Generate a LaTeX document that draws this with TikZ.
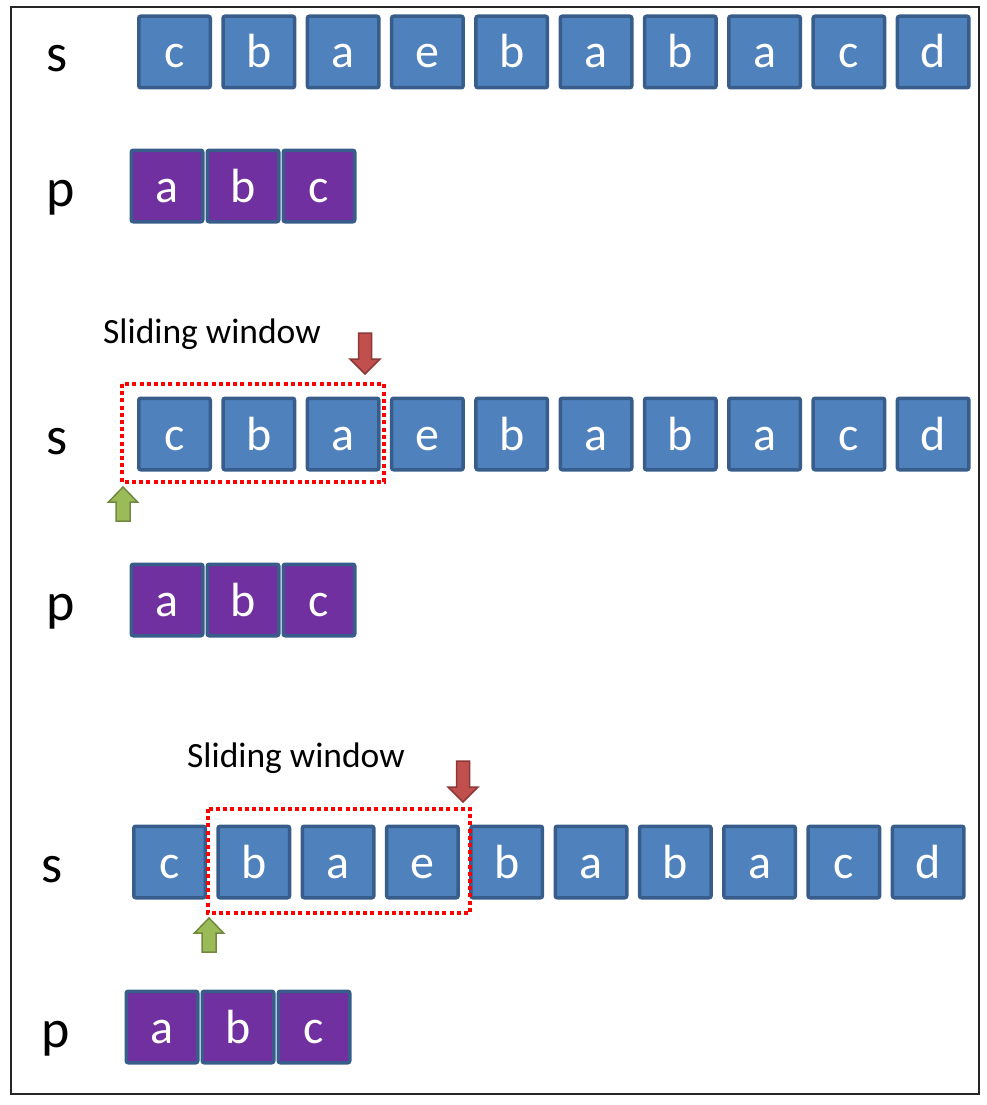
\documentclass[tikz,border=0pt]{standalone}
\usepackage{fontspec}
\setmainfont{Carlito}
\usetikzlibrary{positioning}
\definecolor{cellblue}{HTML}{4F81BD}
\definecolor{cellpurple}{HTML}{7030A0}
\definecolor{cellline}{HTML}{385D8A}
\definecolor{ptrred}{HTML}{C0504D}
\definecolor{ptrredline}{HTML}{8C3836}
\definecolor{ptrgreen}{HTML}{9BBB59}
\definecolor{ptrgreenline}{HTML}{71893F}
\begin{document}
\begin{tikzpicture}[x=1pt, y=-1pt, every node/.style={inner sep=0pt},
                    cell/.style={draw=cellline, line width=3.5pt, rounded corners=2pt,
                                 minimum size=71.5pt, text=white,
                                 font=\fontsize{48}{48}\selectfont,
                                 text height=32pt, text depth=0pt},
                    scell/.style={cell, fill=cellblue},
                    pcell/.style={cell, fill=cellpurple},
                    rowlabel/.style={anchor=base, font=\fontsize{54}{54}\selectfont},
                    caption/.style={anchor=base west, font=\fontsize{35.5}{35.5}\selectfont},
                    window/.style={draw=red, line width=3.5pt, dash pattern=on 4pt off 3.2pt},
                    downptr/.pic={\draw[fill=ptrred, draw=ptrredline, line width=1.5pt]
                                  (-6.5,-41) -- (6.5,-41) -- (6.5,-15) -- (15,-15) -- (0,0)
                                  -- (-15,-15) -- (-6.5,-15) -- cycle;},
                    upptr/.pic={\draw[fill=ptrgreen, draw=ptrgreenline, line width=1.5pt]
                                (-7,34) -- (7,34) -- (7,15) -- (14.5,15) -- (0,0)
                                -- (-14.5,15) -- (-7,15) -- cycle;}]

\useasboundingbox (0,0) rectangle (986,1105);
\draw[line width=1.2pt, black!85] (11,7) rectangle (979,1094);

% first step
\node[rowlabel] (sA) at (57,72) {s};
\node[rowlabel] (pA) at (61,206) {p};
\foreach \ch [count=\i] in {c,b,a,e,b,a,b,a,c,d}
  \node[scell] (sA\i) at ({174.5+(\i-1)*84.3},52) {\ch};
\foreach \ch [count=\i] in {a,b,c}
  \node[pcell] (pA\i) at ({167+(\i-1)*76},186) {\ch};

% second step
\node[caption] (capB) at (103,343) {Sliding window};
\node[rowlabel] (sB) at (57,454) {s};
\node[rowlabel] (pB) at (61,620) {p};
\foreach \ch [count=\i] in {c,b,a,e,b,a,b,a,c,d}
  \node[scell] (sB\i) at ({174.5+(\i-1)*84.3},434) {\ch};
\foreach \ch [count=\i] in {a,b,c}
  \node[pcell] (pB\i) at ({167+(\i-1)*76},600) {\ch};
\draw[window] (122,384) rectangle (384,482);
\pic at (365,374) {downptr};
\pic at (123,487) {upptr};

% third step
\node[caption] (capC) at (187,767) {Sliding window};
\node[rowlabel] (sC) at (52,882) {s};
\node[rowlabel] (pC) at (56,1047) {p};
\foreach \ch [count=\i] in {c,b,a,e,b,a,b,a,c,d}
  \node[scell] (sC\i) at ({169.5+(\i-1)*84.3},862) {\ch};
\foreach \ch [count=\i] in {a,b,c}
  \node[pcell] (pC\i) at ({162+(\i-1)*76},1027) {\ch};
\draw[window] (208,809) rectangle (470,913);
\pic at (463,802) {downptr};
\pic at (209,918) {upptr};
\end{tikzpicture}
\end{document}
